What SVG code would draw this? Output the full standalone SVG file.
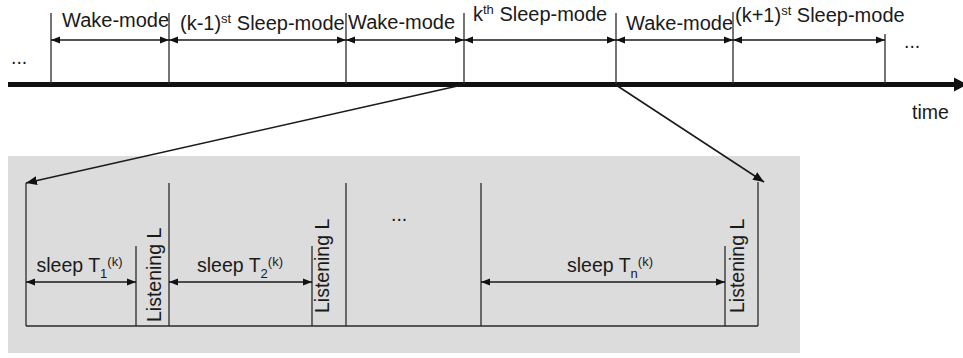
<svg xmlns="http://www.w3.org/2000/svg" width="963" height="358" viewBox="0 0 963 358">
  <style>
    text { font-family: "Liberation Sans", Arial, sans-serif; font-size: 19.5px; fill: #1a1a1a; }
    .top { font-size: 20px; }
    .sup, .sub { font-size: 13px; }
    .tick { stroke: #2a2a2a; stroke-width: 1.3; fill: none; }
    .dim { stroke: #1a1a1a; stroke-width: 1.6; fill: none; marker-start: url(#ah); marker-end: url(#ah); }
    .diag { stroke: #1a1a1a; stroke-width: 1.6; fill: none; marker-end: url(#ah2); }
  </style>
  <defs>
    <marker id="ah" viewBox="0 0 10 10" refX="10" refY="5" markerWidth="9" markerHeight="9" markerUnits="userSpaceOnUse" orient="auto-start-reverse">
      <path d="M0,1 L10,5 L0,9 z" fill="#111"/>
    </marker>
    <marker id="ah2" viewBox="0 0 10 10" refX="10" refY="5" markerWidth="11" markerHeight="11" markerUnits="userSpaceOnUse" orient="auto">
      <path d="M0,1 L10,5 L0,9 z" fill="#111"/>
    </marker>
  </defs>

  <rect width="963" height="358" fill="#ffffff"/>

  <!-- zoom panel -->
  <rect id="panel" x="8" y="156" width="792" height="197" fill="#dcdcdc"/>

  <!-- timeline -->
  <g id="timeline">
    <line x1="8" y1="84.5" x2="956" y2="84.5" stroke="#111" stroke-width="5"/>
    <polygon points="954,77.5 967,84.5 954,91.5" fill="#111"/>
    <text x="912" y="119">time</text>
    <text x="11" y="64">...</text>
    <text x="904" y="48">...</text>
  </g>

  <!-- top segments -->
  <g id="wake1">
    <line class="tick" x1="51" y1="13" x2="51" y2="84"/>
    <text class="top" x="62" y="27">Wake-mode</text>
  </g>
  <g id="sleep-k-1">
    <line class="tick" x1="169" y1="13" x2="169" y2="84"/>
    <text class="top" x="180" y="29.5">(k-1)<tspan class="sup" dy="-7">st</tspan><tspan dy="7"> Sleep-mode</tspan></text>
  </g>
  <g id="wake2">
    <line class="tick" x1="346" y1="13" x2="346" y2="84"/>
    <text class="top" x="348" y="29">Wake-mode</text>
  </g>
  <g id="sleep-k">
    <line class="tick" x1="464" y1="13" x2="464" y2="84"/>
    <text class="top" x="473" y="21">k<tspan class="sup" dy="-7">th</tspan><tspan dy="7"> Sleep-mode</tspan></text>
  </g>
  <g id="wake3">
    <line class="tick" x1="616" y1="13" x2="616" y2="84"/>
    <text class="top" x="626" y="29.5">Wake-mode</text>
  </g>
  <g id="sleep-k1">
    <line class="tick" x1="733" y1="12" x2="733" y2="84"/>
    <text class="top" x="735" y="22">(k+1)<tspan class="sup" dy="-7">st</tspan><tspan dy="7"> Sleep-mode</tspan></text>
  </g>
  <g id="end-tick">
    <line class="tick" x1="885" y1="34" x2="885" y2="84"/>
  </g>

  <!-- bottom detail -->
  <g id="frame">
    <line class="tick" x1="26" y1="326" x2="758" y2="326"/>
    <line class="tick" x1="26" y1="183" x2="26" y2="326"/>
    <line class="tick" x1="169" y1="183" x2="169" y2="326"/>
    <line class="tick" x1="346" y1="183" x2="346" y2="326"/>
    <line class="tick" x1="481" y1="183" x2="481" y2="326"/>
    <line class="tick" x1="758" y1="182" x2="758" y2="326"/>
  </g>
  <g id="sleep1">
    <text x="36.5" y="272">sleep T<tspan class="sub" dy="6">1</tspan><tspan class="sup" dy="-12">(k)</tspan></text>
  </g>
  <g id="listen1">
    <line class="tick" x1="136" y1="246" x2="136" y2="326"/>
    <text transform="translate(161,322) rotate(-90)">Listening L</text>
  </g>
  <g id="sleep2">
    <text x="197" y="272">sleep T<tspan class="sub" dy="6">2</tspan><tspan class="sup" dy="-12">(k)</tspan></text>
  </g>
  <g id="listen2">
    <line class="tick" x1="312" y1="246" x2="312" y2="326"/>
    <text transform="translate(329,313) rotate(-90)">Listening L</text>
  </g>
  <g id="ellipsis">
    <text x="391" y="221">...</text>
  </g>
  <g id="sleepn">
    <text x="567" y="272">sleep T<tspan class="sub" dy="6">n</tspan><tspan class="sup" dy="-12">(k)</tspan></text>
  </g>
  <g id="listenn">
    <line class="tick" x1="725" y1="246" x2="725" y2="326"/>
    <text transform="translate(744,313) rotate(-90)">Listening L</text>
  </g>

  <!-- connectors -->
  <g id="connectors">
    <line class="dim" x1="51" y1="40" x2="169" y2="40"/>
    <line class="dim" x1="169" y1="40" x2="346" y2="40"/>
    <line class="dim" x1="346" y1="40" x2="464" y2="40"/>
    <line class="dim" x1="464" y1="40" x2="616" y2="40"/>
    <line class="dim" x1="616" y1="40" x2="733" y2="40"/>
    <line class="dim" x1="733" y1="40" x2="885" y2="40"/>
    <line class="dim" x1="26" y1="282" x2="136" y2="282"/>
    <line class="dim" x1="169" y1="282" x2="312" y2="282"/>
    <line class="dim" x1="481" y1="282" x2="725" y2="282"/>
    <line class="diag" x1="462" y1="85" x2="26" y2="183"/>
    <line class="diag" x1="616" y1="85" x2="764" y2="182"/>
  </g>
</svg>
